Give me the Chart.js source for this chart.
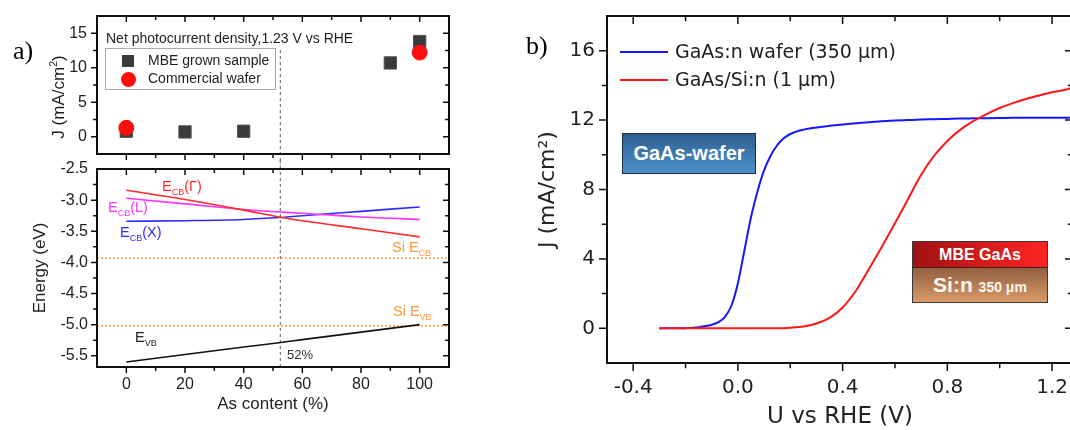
<!DOCTYPE html>
<html>
<head>
<meta charset="utf-8">
<title>GaAs photocurrent and band edges</title>
<script src="https://cdn.jsdelivr.net/npm/chart.js@4.4.1/dist/chart.umd.min.js"></script>
<style>
  html, body { margin: 0; padding: 0; background: #fff; }
  body { position: relative; width: 1070px; height: 430px; overflow: hidden; font-family: "Liberation Sans", Arial, sans-serif; color: #1e1e1e; }
  canvas { position: absolute; }
  .t { position: absolute; white-space: nowrap; line-height: 1; }
  .s { font-size: 9px; position: relative; top: 4px; }
  .panel { font-family: "Liberation Serif", "Times New Roman", serif; font-size: 26px; color: #000; }
  .box { position: absolute; }
  .dv { font-family: "DejaVu Sans", "Liberation Sans", sans-serif; }
</style>
</head>
<body>
<canvas id="topChart" width="470" height="165" style="left:0;top:0"></canvas>
<canvas id="bandChart" width="470" height="270" style="left:0;top:160px"></canvas>
<canvas id="jvChart" width="600" height="430" style="left:480px;top:0"></canvas>

<div class="t panel" style="left:13px;top:38px">a)</div>
<div class="t panel" style="left:526px;top:33px">b)</div>

<!-- panel a, top: title and legend -->
<div class="t" style="left:58px;top:97px;font-size:17px;transform:translate(-50%,-50%) rotate(-90deg)">J (mA/cm<span style="font-size:10.5px;position:relative;top:-7px">2</span>)</div>
<div class="t" style="left:106px;top:31px;font-size:14px">Net photocurrent density,1.23 V vs RHE</div>
<div class="box" style="left:105px;top:48px;width:169px;height:40px;border:1px solid #aaa"></div>
<div class="box" id="legSquare" style="left:122px;top:55px;width:12px;height:12px"></div>
<div class="t" style="left:148px;top:53px;font-size:14px">MBE grown sample</div>
<div class="box" id="legCircle" style="left:121px;top:72px;width:15px;height:15px;border-radius:50%"></div>
<div class="t" style="left:148px;top:71px;font-size:14px">Commercial wafer</div>

<!-- panel a, bottom: band labels -->
<div class="t" style="left:162px;top:179px;font-size:14.5px;color:#ff2b2b">E<span class="s">CB</span>(Γ)</div>
<div class="t" style="left:108px;top:200px;font-size:14.5px;color:#ff33ff">E<span class="s">CB</span>(L)</div>
<div class="t" style="left:120px;top:225px;font-size:14.5px;color:#2d2dff">E<span class="s">CB</span>(X)</div>
<div class="t" style="left:392px;top:240px;font-size:14.5px;color:#ff9933">Si E<span class="s">CB</span></div>
<div class="t" style="left:393px;top:304px;font-size:14.5px;color:#ff9933">Si E<span class="s">VB</span></div>
<div class="t" style="left:135px;top:330px;font-size:14.5px;color:#222">E<span class="s">VB</span></div>
<div class="t" style="left:287px;top:348px;font-size:13px;color:#333">52%</div>

<!-- panel b: legend and insets -->
<div class="box" id="legBlue" style="left:620px;top:51px;width:48px;height:2px"></div>
<div class="t dv" style="left:675px;top:42px;font-size:19px">GaAs:n wafer (350 μm)</div>
<div class="box" id="legRed" style="left:620px;top:79px;width:48px;height:2px"></div>
<div class="t dv" style="left:675px;top:70px;font-size:19px">GaAs/Si:n (1 μm)</div>

<div class="box" style="left:622px;top:133px;width:132px;height:39px;border:1.5px solid #1d2f45;background:linear-gradient(#2f5f8f,#4d8fcc);color:#fff;font-weight:bold;font-size:20px;display:flex;align-items:center;justify-content:center">GaAs-wafer</div>

<div class="box" style="left:912px;top:241px;width:134px;border:1px solid #3a3a3a">
  <div style="height:25px;background:linear-gradient(90deg,#a01212,#ff2424);color:#fff;font-weight:bold;font-size:16px;display:flex;align-items:center;justify-content:center;border-bottom:1px solid #4a1a1a">MBE GaAs</div>
  <div style="height:34px;background:linear-gradient(#93603f,#d89a68);color:#fff8ee;font-weight:bold;display:flex;align-items:center;justify-content:center"><span style="font-size:21px">Si:n <span style="font-size:14px">350 μm</span></span></div>
</div>

<script>
// ---- panel a (top): net photocurrent density at 1.23 V vs RHE
const asContentMBE = [0, 20, 40, 90, 100];
const jMBE = [0.8, 0.7, 0.8, 10.7, 13.8];
const asContentWafer = [0, 100];
const jCommercial = [1.3, 12.2];

// ---- panel a (bottom): band edges vs As content
const asGrid = [0, 20, 40, 52, 60, 80, 100];
const eCBGamma = [-2.84, -2.99, -3.16, -3.27, -3.33, -3.46, -3.59];
const eCBL = [-2.97, -3.06, -3.15, -3.19, -3.21, -3.27, -3.31];
const eCBX = [-3.34, -3.33, -3.31, -3.28, -3.25, -3.18, -3.11];
const eVB = [-5.60, -5.48, -5.36, -5.29, -5.24, -5.12, -5.00];
const siECB = -3.93;
const siEVB = -5.02;
const crossAs = 52.5;

// ---- panel b: J-U curves
const uGrid = [-0.3, -0.25, -0.2, -0.15, -0.1, -0.075, -0.05, -0.025, 0, 0.025, 0.05, 0.075, 0.1,
  0.125, 0.15, 0.175, 0.2, 0.25, 0.3, 0.35, 0.4, 0.45, 0.5, 0.55, 0.6, 0.65, 0.7, 0.75, 0.8,
  0.85, 0.9, 0.95, 1.0, 1.05, 1.1, 1.15, 1.2, 1.28];
const jGaAsWafer = [0, 0, 0.01, 0.06, 0.2, 0.35, 0.65, 1.3, 2.6, 4.5, 6.4, 7.9, 9.1,
  9.95, 10.55, 10.95, 11.2, 11.45, 11.58, 11.67, 11.75, 11.82, 11.88, 11.93, 11.97, 12.0, 12.03, 12.05, 12.07,
  12.09, 12.1, 12.11, 12.12, 12.13, 12.13, 12.13, 12.13, 12.13];
const jGaAsSi = [0, 0, 0, 0, 0, 0, 0, 0, 0, 0, 0, 0, 0,
  0, 0, 0.01, 0.03, 0.1, 0.28, 0.6, 1.2, 2.15, 3.4, 4.7, 6.05, 7.45, 8.85, 9.95, 10.8,
  11.45, 11.95, 12.35, 12.7, 12.98, 13.22, 13.42, 13.6, 13.85];

// ---- tick labels and tick marks
const asTickLabels = [0, 20, 40, 60, 80, 100];
const asTickMarks = [0, 10, 20, 30, 40, 50, 60, 70, 80, 90, 100];
const jTopTickLabels = [0, 5, 10, 15];
const jTopTickMarks = [0, 2.5, 5, 7.5, 10, 12.5, 15];
const energyTickLabels = [-5.5, -5, -4.5, -4, -3.5, -3, -2.5];
const energyTickMarks = [-5.5, -5.25, -5, -4.75, -4.5, -4.25, -4, -3.75, -3.5, -3.25, -3, -2.75];
const uTickLabels = [-0.4, 0, 0.4, 0.8, 1.2];
const uTickMarks = [-0.4, -0.2, 0, 0.2, 0.4, 0.6, 0.8, 1.0, 1.2];
const jTickLabels = [0, 4, 8, 12, 16];
const jTickMarks = [0, 2, 4, 6, 8, 10, 12, 14, 16];

const MBE_GREY = '#3b3b3b';
const WAFER_RED = '#ff0d0d';
const BLUE = '#1616ff';
const RED = '#ff1616';

document.getElementById('legSquare').style.background = MBE_GREY;
document.getElementById('legCircle').style.background = WAFER_RED;
document.getElementById('legBlue').style.background = BLUE;
document.getElementById('legRed').style.background = RED;

const FONT = "'Liberation Sans', Arial, sans-serif";
const FONT_B = "'DejaVu Sans', 'Liberation Sans', sans-serif";

function toXY(xs, ys) {
  return xs.map((x, i) => ({ x: x, y: ys[i] }));
}
// fixed axis size, and no extra room for half labels at the ends
function fixedWidth(w) {
  return s => { s.width = w; s.paddingTop = 0; s.paddingBottom = 0; };
}
function fixedHeight(h) {
  return s => { s.height = h; s.paddingLeft = 0; s.paddingRight = 0; };
}
function setTicks(values) { return s => { s.ticks = values.map(v => ({ value: v })); }; }

// box frame with ticks: out on left/bottom, in on top/right
const framePlugin = {
  id: 'frame',
  afterDraw(chart, args, opts) {
    const { ctx, chartArea: a, scales } = chart;
    const x = scales.x, y = scales.y;
    const L = opts.len || 7;
    ctx.save();
    ctx.strokeStyle = '#111';
    ctx.lineWidth = 1.5;
    ctx.beginPath();
    opts.xMarks.forEach(v => {
      const len = opts.xMajor.includes(v) ? L : L * 0.65;
      const p = x.getPixelForValue(v);
      ctx.moveTo(p, a.bottom); ctx.lineTo(p, a.bottom + len);
      ctx.moveTo(p, a.top); ctx.lineTo(p, a.top + len);
    });
    opts.yMarks.forEach(v => {
      const len = opts.yMajor.includes(v) ? L : L * 0.65;
      const p = y.getPixelForValue(v);
      ctx.moveTo(a.left, p); ctx.lineTo(a.left - len, p);
      ctx.moveTo(a.right, p); ctx.lineTo(a.right - len, p);
    });
    ctx.stroke();
    ctx.lineWidth = 2;
    ctx.strokeRect(a.left, a.top, a.right - a.left, a.bottom - a.top);
    ctx.restore();
  }
};

const noGrid = { display: false, drawTicks: false };

// top-left: photocurrent scatter
new Chart(document.getElementById('topChart'), {
  type: 'scatter',
  data: {
    datasets: [
      { label: 'Commercial wafer', data: toXY(asContentWafer, jCommercial), pointStyle: 'circle',
        pointRadius: 7.5, backgroundColor: WAFER_RED, borderColor: WAFER_RED, order: 1 },
      { label: 'MBE grown sample', data: toXY(asContentMBE, jMBE), pointStyle: 'rect',
        pointRadius: 8.7, backgroundColor: MBE_GREY, borderColor: '#555', borderWidth: 1, order: 2 },
      { label: '52%', data: [{ x: crossAs, y: -4.4 }, { x: crossAs, y: 12.8 }], showLine: true,
        pointRadius: 0, borderColor: '#777', borderWidth: 1.2, borderDash: [3, 3], clip: false, order: 3 }
    ]
  },
  options: {
    responsive: false,
    animation: false,
    layout: { padding: { top: 16, right: 21, left: 0, bottom: 0 } },
    plugins: {
      legend: { display: false },
      tooltip: { enabled: false },
      frame: { xMarks: asTickMarks, xMajor: asTickLabels, yMarks: jTopTickMarks, yMajor: jTopTickLabels, len: 6 }
    },
    scales: {
      x: { type: 'linear', min: -10, max: 110, grid: noGrid, border: { display: false },
        ticks: { display: false }, afterFit: fixedHeight(11) },
      y: { min: -2.5, max: 17.5, grid: noGrid, border: { display: false },
        ticks: { font: { family: FONT, size: 16 }, color: '#222', padding: 10 },
        afterBuildTicks: setTicks(jTopTickLabels), afterFit: fixedWidth(97) }
    }
  },
  plugins: [framePlugin]
});

// bottom-left: band edges
const lineDs = (label, ys, color) => ({
  label: label, data: toXY(asGrid, ys), showLine: true, pointRadius: 0,
  borderColor: color, borderWidth: 1.6, cubicInterpolationMode: 'monotone'
});
new Chart(document.getElementById('bandChart'), {
  type: 'scatter',
  data: {
    datasets: [
      lineDs('ECB(Γ)', eCBGamma, '#ff2b2b'),
      lineDs('ECB(L)', eCBL, '#ff33ff'),
      lineDs('ECB(X)', eCBX, '#2d2dff'),
      lineDs('EVB', eVB, '#111'),
      { label: 'Si ECB', data: [{ x: -10, y: siECB }, { x: 110, y: siECB }], showLine: true, pointRadius: 0,
        borderColor: '#ff9933', borderWidth: 1.5, borderDash: [2, 2] },
      { label: 'Si EVB', data: [{ x: -10, y: siEVB }, { x: 110, y: siEVB }], showLine: true, pointRadius: 0,
        borderColor: '#ff9933', borderWidth: 1.5, borderDash: [2, 2] },
      { label: '52%', data: [{ x: crossAs, y: -5.68 }, { x: crossAs, y: -2.34 }], showLine: true,
        pointRadius: 0, borderColor: '#777', borderWidth: 1.2, borderDash: [3, 3], clip: false }
    ]
  },
  options: {
    responsive: false,
    animation: false,
    layout: { padding: { top: 9, right: 21, left: 0, bottom: 0 } },
    plugins: {
      legend: { display: false },
      tooltip: { enabled: false },
      frame: { xMarks: asTickMarks, xMajor: asTickLabels, yMarks: energyTickMarks, yMajor: energyTickLabels, len: 6 }
    },
    scales: {
      x: { type: 'linear', min: -10, max: 110, grid: noGrid, border: { display: false },
        ticks: { font: { family: FONT, size: 16 }, color: '#222', padding: 8 },
        afterBuildTicks: setTicks(asTickLabels), afterFit: fixedHeight(63),
        title: { display: true, text: 'As content (%)', font: { family: FONT, size: 17 }, color: '#222', padding: { bottom: 15 } } },
      y: { min: -5.68, max: -2.5, grid: noGrid, border: { display: false },
        ticks: { font: { family: FONT, size: 16 }, color: '#222', padding: 9, callback: v => v.toFixed(1) },
        afterBuildTicks: setTicks(energyTickLabels), afterFit: fixedWidth(97),
        title: { display: true, text: 'Energy (eV)', font: { family: FONT, size: 17 }, color: '#222', padding: { top: 30 } } }
    }
  },
  plugins: [framePlugin]
});

// right: J-U curves
new Chart(document.getElementById('jvChart'), {
  type: 'scatter',
  data: {
    datasets: [
      { label: 'GaAs/Si:n (1 μm)', data: toXY(uGrid, jGaAsSi), showLine: true, pointRadius: 0,
        borderColor: RED, borderWidth: 2, cubicInterpolationMode: 'monotone' },
      { label: 'GaAs:n wafer (350 μm)', data: toXY(uGrid, jGaAsWafer), showLine: true, pointRadius: 0,
        borderColor: BLUE, borderWidth: 2, cubicInterpolationMode: 'monotone' }
    ]
  },
  options: {
    responsive: false,
    animation: false,
    layout: { padding: { top: 16, right: 7, left: 0, bottom: 0 } },
    plugins: {
      legend: { display: false },
      tooltip: { enabled: false },
      frame: { xMarks: uTickMarks, xMajor: uTickLabels, yMarks: jTickMarks, yMajor: jTickLabels, len: 8 }
    },
    scales: {
      x: { type: 'linear', min: -0.5, max: 1.28, grid: noGrid, border: { display: false },
        ticks: { font: { family: FONT_B, size: 20 }, color: '#222', padding: 13, callback: v => v.toFixed(1) },
        afterBuildTicks: setTicks(uTickLabels), afterFit: fixedHeight(67),
        title: { display: true, text: 'U vs RHE (V)', font: { family: FONT_B, size: 23 }, color: '#222', padding: { bottom: -1 } } },
      y: { min: -2, max: 18, grid: noGrid, border: { display: false },
        ticks: { font: { family: FONT_B, size: 20 }, color: '#222', padding: 12 },
        afterBuildTicks: setTicks(jTickLabels), afterFit: fixedWidth(127),
        title: { display: true, text: 'J (mA/cm²)', font: { family: FONT_B, size: 22 }, color: '#222', padding: { top: 55 } } }
    }
  },
  plugins: [framePlugin]
});
</script>
</body>
</html>
